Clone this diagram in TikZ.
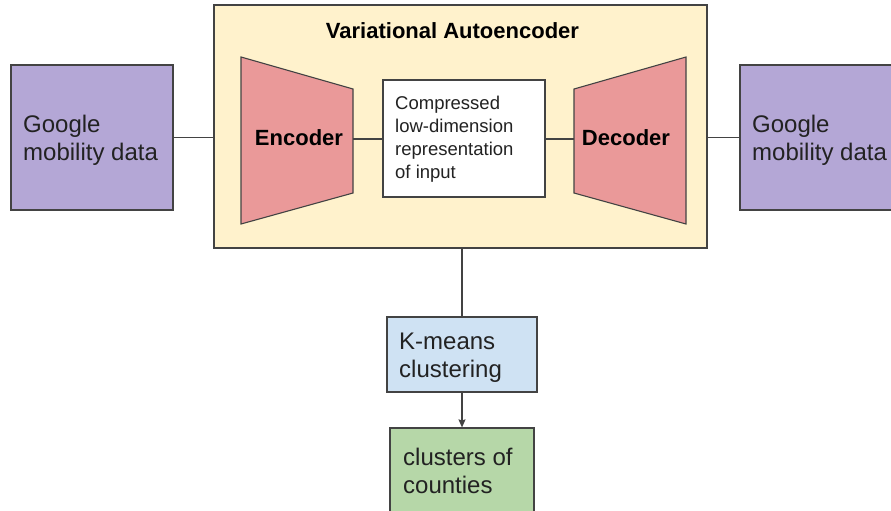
\documentclass[tikz,border=0pt]{standalone}
\usepackage{fontspec}
\setmainfont{Liberation Sans}
\usetikzlibrary{arrows.meta}
\definecolor{purp}{HTML}{B4A7D6}
\definecolor{vaeyel}{HTML}{FFF2CC}
\definecolor{trapred}{HTML}{EA9999}
\definecolor{kmblue}{HTML}{CFE2F3}
\definecolor{clgreen}{HTML}{B6D7A8}
\definecolor{edge}{HTML}{434343}
\definecolor{txt}{HTML}{222222}
\begin{document}
\begin{tikzpicture}[x=1pt,y=-1pt,
  box/.style={draw=edge, line width=1.2pt, rectangle, inner sep=0pt},
  body/.style={text=txt, align=left, inner sep=0pt, font=\fontsize{24}{28}\selectfont},
  small/.style={text=txt, align=left, inner sep=0pt, font=\fontsize{18.5}{23}\selectfont},
  bold/.style={text=black, inner sep=0pt, font=\fontsize{22}{26}\selectfont\bfseries},
  conn/.style={draw=edge, line width=1.1pt},
  trap/.style={draw=edge, line width=1.1pt, fill=trapred, line join=miter}]
\useasboundingbox (0,0) rectangle (891,511);
\clip (0,0) rectangle (891,511);
\fill[white] (0,0) rectangle (891,511);

% outer boxes
\node[box, fill=purp, minimum width=162pt, minimum height=145pt] (lbox) at (92,137.5) {};
\node[body, anchor=west] (lboxt) at (23,140) {Google\\mobility data};

\node[box, fill=vaeyel, minimum width=493pt, minimum height=243pt] (vae) at (460.5,126.5) {};
\node[bold] (vaet) at (452.5,31) {Variational Autoencoder};

\node[box, fill=purp, minimum width=165pt, minimum height=145pt] (rbox) at (822.5,137.5) {};
\node[body, anchor=west] (rboxt) at (752,140) {Google\\mobility data};

% encoder / decoder trapezoids
\draw[trap] (241,57) -- (353,89) -- (353,193) -- (241,224) -- cycle;
\coordinate (encR) at (353,139);
\node[bold] (enc) at (299,138) {Encoder};

\draw[trap] (574,89) -- (686,57) -- (686,224) -- (574,193) -- cycle;
\coordinate (decL) at (574,139);
\node[bold] (dec) at (626,138) {Decoder};

% compressed box
\node[box, fill=white, minimum width=162pt, minimum height=117pt] (comp) at (464,138.5) {};
\node[small, anchor=west] (compt) at (395,139.5) {Compressed\\low-dimension\\representation\\of input};

% k-means and clusters
\node[box, fill=kmblue, minimum width=150pt, minimum height=75pt] (km) at (462,354.5) {};
\node[body, anchor=west] (kmt) at (399,358) {K-means\\clustering};

\node[box, fill=clgreen, minimum width=144pt, minimum height=120pt] (cl) at (462,488) {};
\node[body, anchor=north west] (clt) at (403,448) {clusters of\\counties};

% connectors
\draw[conn] (lbox.east) -- (lbox.east -| vae.west);
\draw[conn] (encR) -- (encR -| comp.west);
\draw[conn] (comp.east |- decL) -- (decL);
\draw[conn] (rbox.west) -- (rbox.west -| vae.east);
\draw[conn] (km.north) -- (km.north |- vae.south);
\draw[conn, -{Stealth[length=8pt, width=7pt, inset=1pt]}] (km.south) -- (cl.north);
\end{tikzpicture}
\end{document}
